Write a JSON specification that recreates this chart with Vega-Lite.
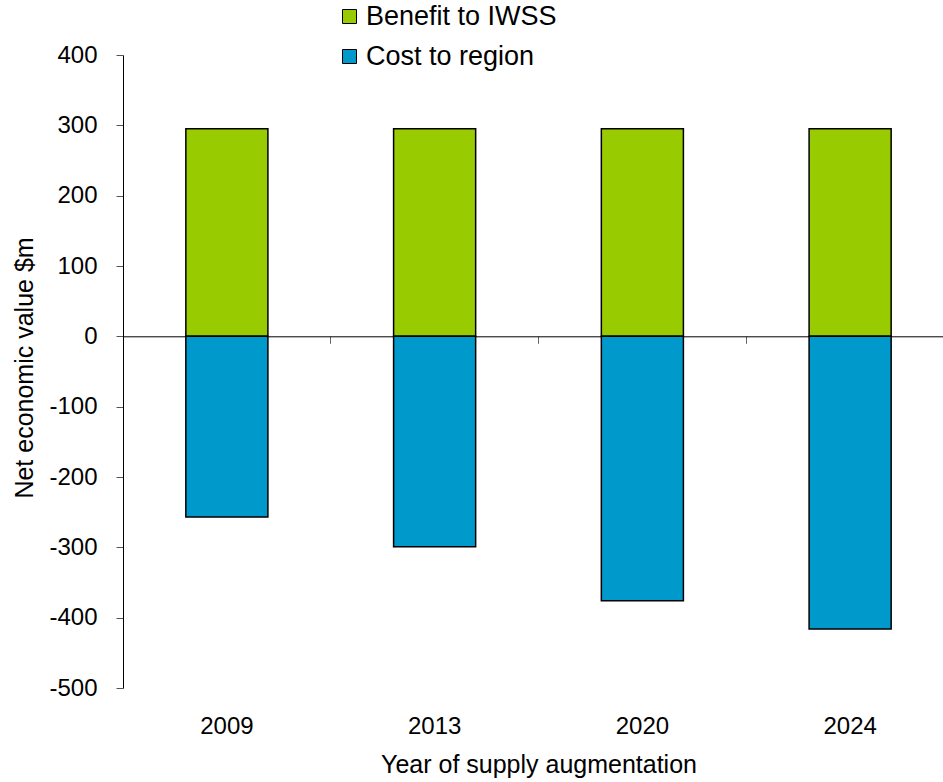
{
  "$schema": "https://vega.github.io/schema/vega-lite/v6.json",
  "width": 820,
  "height": 633,
  "autosize": {"type": "none"},
  "padding": {"left": 123, "top": 55, "right": 0, "bottom": 94},
  "config": {"font": "Liberation Sans", "view": {"stroke": null}},
  "data": {
    "values": [
      {"year": "2009", "series": "Benefit to IWSS", "ord": 1, "value": 295},
      {"year": "2009", "series": "Cost to region", "ord": 2, "value": -257},
      {"year": "2013", "series": "Benefit to IWSS", "ord": 1, "value": 295},
      {"year": "2013", "series": "Cost to region", "ord": 2, "value": -299},
      {"year": "2020", "series": "Benefit to IWSS", "ord": 1, "value": 295},
      {"year": "2020", "series": "Cost to region", "ord": 2, "value": -376},
      {"year": "2024", "series": "Benefit to IWSS", "ord": 1, "value": 295},
      {"year": "2024", "series": "Cost to region", "ord": 2, "value": -416}
    ]
  },
  "resolve": {"axis": {"x": "independent"}},
  "layer": [
    {
      "mark": {"type": "point", "opacity": 0},
      "encoding": {
        "x": {
          "field": "year", "type": "ordinal",
          "scale": {"range": [0, 831], "paddingInner": 0, "paddingOuter": 0},
          "axis": {"orient": "bottom", "offset": -351.7, "labels": false, "title": null, "domainColor": "#000", "domainWidth": 1, "tickColor": "#666", "tickSize": 7, "bandPosition": 0, "grid": false}
        },
        "y": {"field": "value", "type": "quantitative"}
      }
    },
    {
      "mark": {"type": "bar", "width": {"band": 0.395}, "stroke": "#000", "strokeWidth": 1.5},
      "encoding": {
        "x": {
          "field": "year", "type": "ordinal",
          "axis": {"orient": "bottom", "domain": false, "ticks": false, "tickSize": 0, "labelFontSize": 24, "labelColor": "#000", "labelAngle": 0, "labelBaseline": "alphabetic", "labelPadding": 45, "title": "Year of supply augmentation", "titleFontSize": 25, "titleFontWeight": "normal", "titleColor": "#000", "titleX": 415.5, "titleY": 84, "titleBaseline": "alphabetic", "titleAlign": "center"}
        },
        "y": {
          "field": "value", "type": "quantitative", "stack": "zero",
          "scale": {"domain": [-500, 400], "nice": false, "zero": false},
          "axis": {"values": [-500, -400, -300, -200, -100, 0, 100, 200, 300, 400], "labelExpr": "'' + datum.value", "grid": false, "domainColor": "#000", "tickColor": "#555", "tickSize": 7, "labelFontSize": 24, "labelPadding": 19, "labelColor": "#000", "title": "Net economic value $m", "titleFontSize": 25, "titleFontWeight": "normal", "titleColor": "#000", "titleX": -91, "titleY": 312.5, "titleBaseline": "alphabetic", "titleAngle": -90, "titleAlign": "center"}
        },
        "color": {
          "field": "series", "type": "nominal",
          "scale": {"domain": ["Benefit to IWSS", "Cost to region"], "range": ["#99CC00", "#0099CC"]},
          "legend": {"orient": "none", "legendX": 213, "legendY": -52, "title": null, "symbolType": "square", "symbolSize": 196, "symbolStrokeColor": "#000", "symbolStrokeWidth": 1, "symbolOpacity": 1, "labelFontSize": 27, "labelColor": "#000", "labelLimit": 0, "rowPadding": 12, "labelOffset": 3}
        },
        "order": {"field": "ord"}
      }
    }
  ]
}
